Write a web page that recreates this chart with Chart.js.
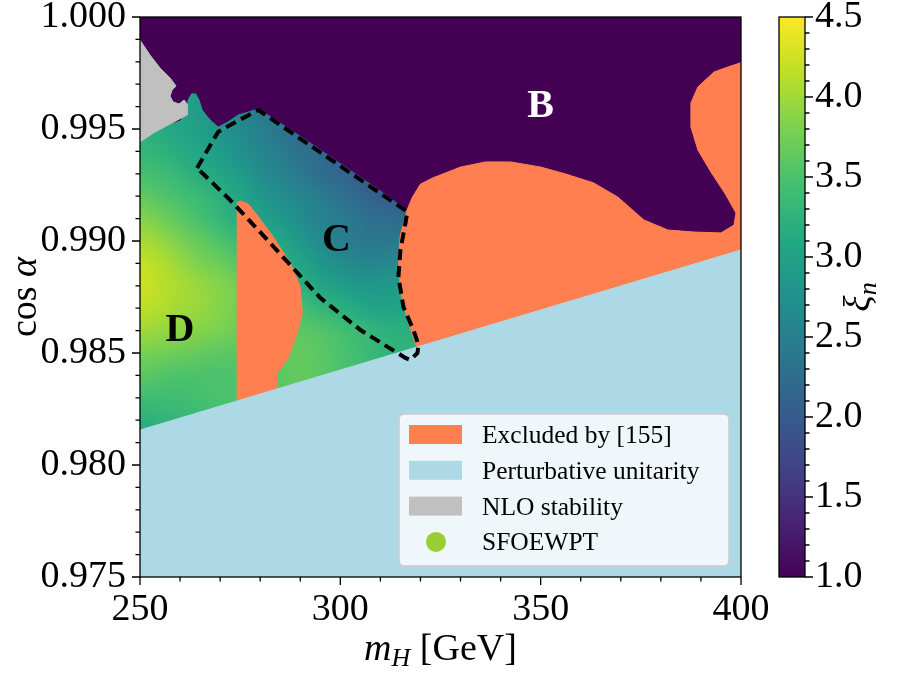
<!DOCTYPE html>
<html>
<head>
<meta charset="utf-8">
<script src="https://cdn.jsdelivr.net/npm/chart.js@4.4.1/dist/chart.umd.min.js"></script>
<style>
  html, body { margin: 0; padding: 0; background: #fff; }
  #wrap { position: relative; width: 911px; height: 673px; }
  #main { position: absolute; left: 0; top: 0; }
  #cbar { position: absolute; left: 760px; top: 0; }
</style>
</head>
<body>
<div id="wrap">
  <canvas id="main" width="911" height="673"></canvas>
  <canvas id="cbar" width="151" height="673"></canvas>
</div>
<script>
// axis ranges
const xMin = 250, xMax = 400;
const yMin = 0.975, yMax = 1.0;
const cbarMin = 1.0, cbarMax = 4.5;

// region B (xi_n ~ 1), purple area on top
const regionB = [
    [250, 1.0], [400, 1.0], [400, 0.9980], [396.75, 0.99777], [393.25, 0.99754], [389.25, 0.99688],
    [387.5, 0.99616], [387.5, 0.99509], [389.25, 0.99406], [392.5, 0.99308], [396.25, 0.99205],
    [398.75, 0.99125], [398.25, 0.99071], [395, 0.99036], [388.25, 0.9904], [381.75, 0.99049],
    [375.75, 0.99094], [369.25, 0.99196], [363.25, 0.99259], [356.25, 0.99299], [350, 0.9933],
    [342.5, 0.99353], [336.25, 0.99353], [330, 0.9933], [323, 0.99281], [320, 0.99254], [318, 0.99196],
    [316.75, 0.9914], [310, 0.99228], [300, 0.9935], [290, 0.99472], [279.5, 0.99595], [277, 0.9958],
    [274.5, 0.99567], [272, 0.99536], [269.5, 0.99513], [267.5, 0.99545], [265.75, 0.99585], [265, 0.99629],
    [264, 0.99661], [262.75, 0.99661], [261.75, 0.99629], [261.5, 0.99585], [260, 0.9954], [255, 0.99509],
    [250, 0.99473], [250, 1.0]
];

// excluded by [155], big region on the right
const excludedRight = [
    [316.75, 0.99143], [318, 0.99196], [320, 0.99254], [323, 0.99281], [330, 0.9933], [336.25, 0.99353],
    [342.5, 0.99353], [350, 0.9933], [356.25, 0.99299], [363.25, 0.99259], [369.25, 0.99196], [375.75, 0.99094],
    [381.75, 0.99049], [388.25, 0.9904], [395, 0.99036], [398.25, 0.99071], [398.75, 0.99125], [396.25, 0.99205],
    [392.5, 0.99308], [389.25, 0.99406], [387.5, 0.99509], [387.5, 0.99616], [389.25, 0.99688], [393.25, 0.99754],
    [396.75, 0.99777], [400, 0.99795], [400, 0.9870], [322.5, 0.9838], [319.5, 0.9850], [318.25, 0.98571],
    [316.75, 0.98647], [315, 0.98781], [314.5, 0.98929], [315, 0.99027], [316.75, 0.99143]
];

// excluded by [155], small region in the middle
const excludedInner = [
    [274.25, 0.9917], [275, 0.99179], [277, 0.99165], [279.25, 0.99116], [283.25, 0.99018], [287.5, 0.98902],
    [290, 0.98795], [290.5, 0.98679], [289.25, 0.98589], [286.75, 0.98469], [284.25, 0.98411], [284, 0.9832],
    [274.25, 0.9826], [274.25, 0.9917]
];

// NLO stability, top left corner
const nloStability = [
    [250, 0.99897], [252.5, 0.9983], [255, 0.99772], [257.5, 0.99728], [259, 0.99692], [258, 0.99674],
    [257.5, 0.99647], [258.25, 0.99621], [259.75, 0.99612], [261, 0.99629], [261.75, 0.99612], [261.75, 0.99563],
    [257.5, 0.99522], [253.75, 0.99487], [250, 0.99442], [250, 0.99897]
];

// perturbative unitarity, below the straight line
const unitarity = [[250, 0.975], [250, 0.98156], [400, 0.9896], [400, 0.975], [250, 0.975]];

// dashed outline of region C
const contourC = [
    [264.25, 0.99326], [269.5, 0.99487], [272.5, 0.99518], [279.5, 0.99585], [316.75, 0.9913], [316.25, 0.9908],
    [315, 0.9896], [314.5, 0.98839], [315.75, 0.98705], [318.25, 0.98603], [319.5, 0.98536], [319.25, 0.985],
    [317.5, 0.98469], [316.25, 0.98478], [305, 0.98603], [295, 0.98746], [287.5, 0.98893], [280, 0.9904],
    [272.5, 0.99183], [264.25, 0.99326]
];

// xi_n (rows: cos alpha, columns: m_H)
const xiGridX = [250, 255, 260, 265, 270, 275, 280, 285, 290, 295, 300, 305, 310, 315, 320];
const xiGridY = [0.997, 0.996, 0.995, 0.994, 0.993, 0.992, 0.991, 0.990, 0.989, 0.988, 0.987, 0.986, 0.985, 0.984, 0.983, 0.982, 0.981];
const xiGrid = [
    [3.1, 3.05, 3.0, 2.9, 2.75, 2.55, 2.4, 2.25, 2.15, 2.05, 2.0, 2.0, 2.0, 2.0, 2.0],
    [3.2, 3.1, 3.0, 2.9, 2.75, 2.6, 2.4, 2.25, 2.15, 2.05, 2.0, 2.0, 2.0, 2.0, 2.0],
    [3.25, 3.15, 3.05, 2.95, 2.8, 2.65, 2.5, 2.35, 2.2, 2.1, 2.05, 2.0, 2.0, 2.0, 2.0],
    [3.3, 3.25, 3.15, 3.05, 2.9, 2.75, 2.6, 2.45, 2.3, 2.2, 2.1, 2.05, 2.0, 2.0, 2.0],
    [3.45, 3.4, 3.3, 3.15, 3.05, 2.9, 2.7, 2.55, 2.4, 2.25, 2.15, 2.05, 2.0, 2.0, 2.0],
    [3.65, 3.55, 3.45, 3.35, 3.2, 3.05, 2.85, 2.7, 2.6, 2.45, 2.3, 2.15, 2.05, 2.05, 2.05],
    [3.85, 3.75, 3.6, 3.45, 3.3, 3.15, 3.0, 2.85, 2.7, 2.55, 2.45, 2.35, 2.25, 2.2, 2.2],
    [4.05, 3.95, 3.8, 3.65, 3.5, 3.35, 3.2, 3.05, 2.85, 2.65, 2.5, 2.4, 2.4, 2.4, 2.4],
    [4.2, 4.1, 3.95, 3.8, 3.7, 3.55, 3.4, 3.2, 3.05, 2.85, 2.7, 2.6, 2.6, 2.65, 2.65],
    [4.25, 4.15, 4.05, 3.95, 3.85, 3.75, 3.6, 3.4, 3.2, 3.05, 2.95, 2.85, 2.85, 2.9, 2.9],
    [4.15, 4.1, 4.0, 3.95, 3.85, 3.75, 3.65, 3.55, 3.45, 3.3, 3.2, 3.1, 3.0, 3.05, 3.05],
    [4.0, 3.95, 3.9, 3.85, 3.8, 3.7, 3.65, 3.6, 3.6, 3.55, 3.45, 3.35, 3.25, 3.2, 3.2],
    [3.8, 3.75, 3.7, 3.65, 3.6, 3.6, 3.6, 3.65, 3.65, 3.6, 3.5, 3.4, 3.3, 3.25, 3.25],
    [3.6, 3.55, 3.5, 3.5, 3.5, 3.5, 3.55, 3.6, 3.65, 3.6, 3.5, 3.4, 3.3, 3.3, 3.3],
    [3.4, 3.4, 3.4, 3.45, 3.5, 3.5, 3.55, 3.6, 3.6, 3.55, 3.5, 3.4, 3.3, 3.3, 3.3],
    [3.2, 3.25, 3.3, 3.35, 3.4, 3.45, 3.5, 3.5, 3.5, 3.5, 3.45, 3.4, 3.3, 3.3, 3.3],
    [3.1, 3.15, 3.2, 3.3, 3.35, 3.4, 3.45, 3.45, 3.45, 3.45, 3.4, 3.35, 3.3, 3.3, 3.3]
];

// text on the plot
const regionNames = ['B', 'C', 'D'];
const regionNameX = [350, 299, 260];
const regionNameY = [0.99612, 0.99013, 0.98612];
const regionNameColors = ['#ffffff', '#000000', '#000000'];

const legendLabels = ['Excluded by [155]', 'Perturbative unitarity', 'NLO stability', 'SFOEWPT'];
const legendColors = ['#ff7f50', '#add8e6', '#c0c0c0', '#9acd32'];

// viridis
const viridis = ['#440154', '#482475', '#414487', '#355f8d', '#2a788e', '#21918c', '#22a884', '#44bf70', '#7ad151', '#bddf26', '#fde725'];

const SERIF = '"Liberation Serif", "DejaVu Serif", serif';
const TICK_SIZE = 38;
Chart.defaults.font.family = SERIF;
Chart.defaults.color = '#000';

function hexToRgb(h) {
    return [parseInt(h.slice(1, 3), 16), parseInt(h.slice(3, 5), 16), parseInt(h.slice(5, 7), 16)];
}
const viridisRgb = viridis.map(hexToRgb);

function xiToRgb(v) {
    let t = (v - cbarMin) / (cbarMax - cbarMin);
    t = Math.min(1, Math.max(0, t));
    const s = t * (viridisRgb.length - 1);
    const i = Math.min(viridisRgb.length - 2, Math.floor(s));
    const f = s - i;
    return viridisRgb[i].map((c, k) => Math.round(c + (viridisRgb[i + 1][k] - c) * f));
}

function region(label, pts, color, order) {
    return {
        label: label,
        data: pts.map(([x, y]) => ({ x, y })),
        fill: 'shape',
        backgroundColor: color,
        borderColor: color,
        borderWidth: 1,
        pointRadius: 0,
        tension: 0,
        order: order
    };
}

// smooth field of the SFOEWPT points, drawn under the regions
const heatPlugin = {
    id: 'heat',
    beforeDatasetsDraw(chart) {
        const { ctx, chartArea: a, scales: { x, y } } = chart;
        const cols = xiGridX.length, rows = xiGridY.length;
        const off = document.createElement('canvas');
        off.width = cols;
        off.height = rows;
        const octx = off.getContext('2d');
        const img = octx.createImageData(cols, rows);
        for (let r = 0; r < rows; r++) {
            for (let c = 0; c < cols; c++) {
                const rgb = xiToRgb(xiGrid[r][c]);
                const k = (r * cols + c) * 4;
                img.data[k] = rgb[0];
                img.data[k + 1] = rgb[1];
                img.data[k + 2] = rgb[2];
                img.data[k + 3] = 255;
            }
        }
        octx.putImageData(img, 0, 0);
        const cw = x.getPixelForValue(xiGridX[1]) - x.getPixelForValue(xiGridX[0]);
        const ch = y.getPixelForValue(xiGridY[1]) - y.getPixelForValue(xiGridY[0]);
        const left = x.getPixelForValue(xiGridX[0]) - cw / 2;
        const top = y.getPixelForValue(xiGridY[0]) - ch / 2;
        ctx.save();
        ctx.beginPath();
        ctx.rect(a.left, a.top, a.width, a.height);
        ctx.clip();
        ctx.imageSmoothingEnabled = true;
        ctx.imageSmoothingQuality = 'high';
        ctx.drawImage(off, left, top, cw * cols, ch * rows);
        ctx.restore();
    }
};

const namePlugin = {
    id: 'names',
    afterDatasetsDraw(chart) {
        const { ctx, scales: { x, y } } = chart;
        ctx.save();
        ctx.font = 'bold 40px ' + SERIF;
        ctx.textAlign = 'center';
        ctx.textBaseline = 'alphabetic';
        regionNames.forEach((n, i) => {
            ctx.fillStyle = regionNameColors[i];
            ctx.fillText(n, x.getPixelForValue(regionNameX[i]), y.getPixelForValue(regionNameY[i]) + 13);
        });
        ctx.restore();
    }
};

// frame, tick marks, legend box and axis titles
const framePlugin = {
    id: 'frame',
    afterDraw(chart) {
        const { ctx, chartArea: a, scales: { x, y } } = chart;
        ctx.save();
        ctx.strokeStyle = '#000';
        ctx.lineWidth = 1.3;
        ctx.beginPath();
        x.ticks.forEach(t => {
            const px = x.getPixelForValue(t.value);
            const len = Math.round(t.value) % 50 === 0 ? 8 : 4.5;
            ctx.moveTo(px, a.bottom);
            ctx.lineTo(px, a.bottom + len);
        });
        y.ticks.forEach(t => {
            const py = y.getPixelForValue(t.value);
            const len = Math.round(t.value * 1000) % 5 === 0 ? 8 : 4.5;
            ctx.moveTo(a.left, py);
            ctx.lineTo(a.left - len, py);
        });
        ctx.stroke();
        ctx.strokeRect(a.left, a.top, a.width, a.height);

        // legend
        const bx = a.right - 342, by = a.bottom - 163, bw = 330, bh = 152;
        ctx.beginPath();
        ctx.roundRect(bx, by, bw, bh, 5);
        ctx.fillStyle = 'rgba(255,255,255,0.8)';
        ctx.fill();
        ctx.strokeStyle = '#cccccc';
        ctx.lineWidth = 1.5;
        ctx.stroke();
        ctx.font = '25.5px ' + SERIF;
        ctx.textAlign = 'left';
        ctx.textBaseline = 'alphabetic';
        legendLabels.forEach((lab, i) => {
            const cy = by + 20.5 + i * 35.8;
            ctx.fillStyle = legendColors[i];
            if (i < 3) {
                ctx.fillRect(bx + 10, cy - 9.5, 53, 19);
            } else {
                ctx.beginPath();
                ctx.arc(bx + 37, cy, 10, 0, Math.PI * 2);
                ctx.fill();
            }
            ctx.fillStyle = '#000';
            ctx.fillText(lab, bx + 83, cy + 8.5);
        });

        // x title: m_H [GeV]
        ctx.fillStyle = '#000';
        const f1 = 'italic 38px ' + SERIF, f2 = 'italic 26px ' + SERIF, f3 = '38px ' + SERIF;
        ctx.font = f1; const w1 = ctx.measureText('m').width;
        ctx.font = f2; const w2 = ctx.measureText('H').width;
        ctx.font = f3; const w3 = ctx.measureText(' [GeV]').width;
        let sx = (a.left + a.right) / 2 - (w1 + w2 + w3) / 2;
        const base = 660;
        ctx.font = f1; ctx.fillText('m', sx, base); sx += w1;
        ctx.font = f2; ctx.fillText('H', sx, base + 6); sx += w2;
        ctx.font = f3; ctx.fillText(' [GeV]', sx, base);

        // y title: cos alpha
        ctx.translate(36, (a.top + a.bottom) / 2);
        ctx.rotate(-Math.PI / 2);
        ctx.font = f3; const c1 = ctx.measureText('cos ').width;
        ctx.font = f1; const c2 = ctx.measureText('α').width;
        let cx = -(c1 + c2) / 2;
        ctx.font = f3; ctx.fillText('cos ', cx, 0); cx += c1;
        ctx.font = f1; ctx.fillText('α', cx, 0);
        ctx.restore();
    }
};

function regionDatasets() {
    return [
        Object.assign(region('C', contourC, '#000', 0), {
            fill: false, borderWidth: 4, borderDash: [11, 6], borderJoinStyle: 'round'
        }),
        region('Perturbative unitarity', unitarity, legendColors[1], 1),
        region('NLO stability', nloStability, legendColors[2], 2),
        region('Excluded by [155]', excludedInner, legendColors[0], 3),
        region('Excluded by [155]', excludedRight, legendColors[0], 4),
        region('B', regionB, viridis[0], 5)
    ];
}

new Chart(document.getElementById('main'), {
    type: 'line',
    data: { datasets: regionDatasets() },
    options: {
        responsive: false,
        animation: false,
        layout: { padding: { left: 0, top: 17, right: 170, bottom: 0 } },
        plugins: { legend: { display: false }, tooltip: { enabled: false } },
        scales: {
            x: {
                type: 'linear',
                min: xMin,
                max: xMax,
                grid: { display: false, drawTicks: false },
                border: { display: false },
                ticks: {
                    stepSize: 10,
                    autoSkip: false,
                    maxRotation: 0,
                    padding: 10,
                    font: { size: TICK_SIZE },
                    callback: v => Math.round(v) % 50 === 0 ? String(Math.round(v)) : ''
                },
                afterFit: s => { s.height = 96; s.paddingLeft = 0; s.paddingRight = 0; }
            },
            y: {
                type: 'linear',
                min: yMin,
                max: yMax,
                grid: { display: false, drawTicks: false },
                border: { display: false },
                ticks: {
                    stepSize: 0.001,
                    autoSkip: false,
                    padding: 14,
                    font: { size: TICK_SIZE },
                    callback: v => Math.round(v * 1000) % 5 === 0 ? v.toFixed(3) : ''
                },
                afterFit: s => { s.width = 140; s.paddingTop = 0; s.paddingBottom = 0; }
            }
        }
    },
    plugins: [heatPlugin, namePlugin, framePlugin]
});

// colorbar
const cbarPlugin = {
    id: 'cbarFrame',
    afterDraw(chart) {
        const { ctx, chartArea: a, scales: { y } } = chart;
        ctx.save();
        ctx.strokeStyle = '#000';
        ctx.lineWidth = 1.3;
        ctx.beginPath();
        y.ticks.forEach(t => {
            const py = y.getPixelForValue(t.value);
            const len = Math.round(t.value * 10) % 5 === 0 ? 8 : 4.5;
            ctx.moveTo(a.right, py);
            ctx.lineTo(a.right + len, py);
        });
        ctx.stroke();
        ctx.strokeRect(a.left, a.top, a.width, a.height);
        // xi_n label
        ctx.fillStyle = '#000';
        ctx.translate(110, (a.top + a.bottom) / 2);
        ctx.rotate(-Math.PI / 2);
        ctx.font = 'italic 38px ' + SERIF; const w1 = ctx.measureText('ξ').width;
        ctx.font = 'italic 26px ' + SERIF; const w2 = ctx.measureText('n').width;
        const sx = -(w1 + w2) / 2;
        ctx.font = 'italic 38px ' + SERIF; ctx.fillText('ξ', sx, 0);
        ctx.font = 'italic 26px ' + SERIF; ctx.fillText('n', sx + w1, 6);
        ctx.restore();
    }
};

new Chart(document.getElementById('cbar'), {
    type: 'bar',
    data: {
        labels: [''],
        datasets: [{
            data: [[cbarMin, cbarMax]],
            backgroundColor: ctx => {
                const a = ctx.chart.chartArea;
                if (!a) return viridis[5];
                const g = ctx.chart.ctx.createLinearGradient(0, a.bottom, 0, a.top);
                viridis.forEach((c, i) => g.addColorStop(i / (viridis.length - 1), c));
                return g;
            },
            barPercentage: 1,
            categoryPercentage: 1,
            borderWidth: 0
        }]
    },
    options: {
        responsive: false,
        animation: false,
        layout: { padding: { left: 19, top: 17, right: 0, bottom: 96 } },
        plugins: { legend: { display: false }, tooltip: { enabled: false } },
        scales: {
            x: { display: false },
            y: {
                position: 'right',
                min: cbarMin,
                max: cbarMax,
                grid: { display: false, drawTicks: false },
                border: { display: false },
                ticks: {
                    stepSize: 0.1,
                    autoSkip: false,
                    padding: 10,
                    font: { size: TICK_SIZE },
                    callback: v => Math.round(v * 10) % 5 === 0 ? v.toFixed(1) : ''
                },
                afterFit: s => { s.width = 106; s.paddingTop = 0; s.paddingBottom = 0; }
            }
        }
    },
    plugins: [cbarPlugin]
});
</script>
</body>
</html>
